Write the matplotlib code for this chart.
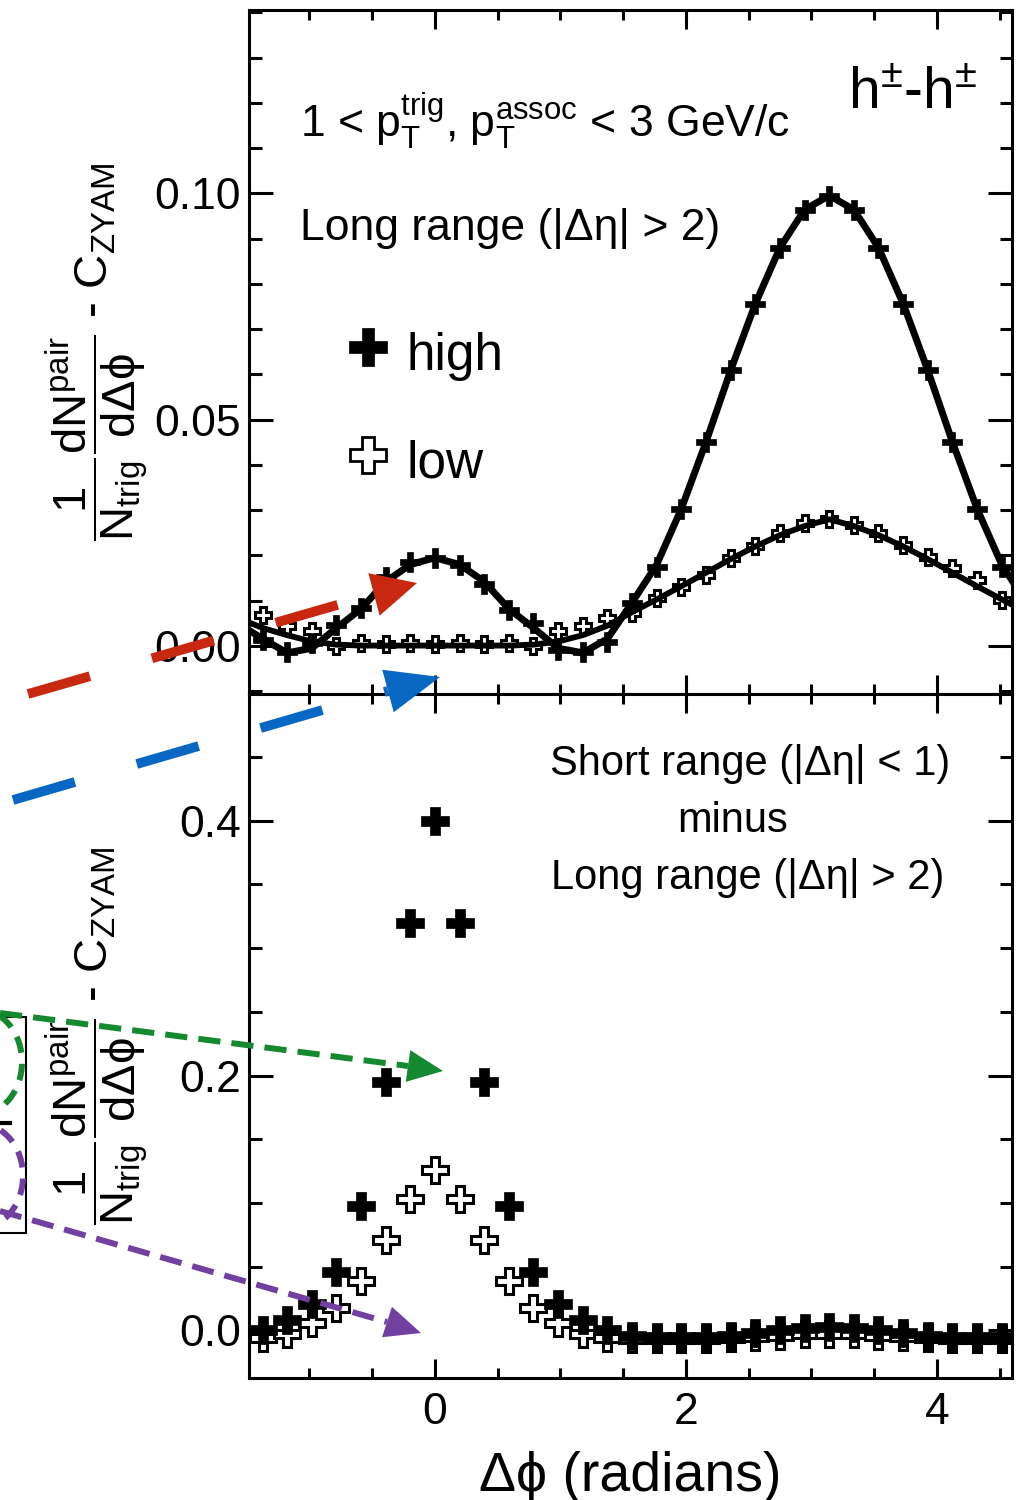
import math
import matplotlib
matplotlib.use("Agg")
import matplotlib.pyplot as plt
from matplotlib.lines import Line2D
from matplotlib.patches import Polygon, Ellipse, Rectangle
from matplotlib.ticker import MultipleLocator

plt.rcParams['font.family'] = ['Liberation Sans', 'DejaVu Sans']
plt.rcParams['mathtext.fontset'] = 'custom'
plt.rcParams['mathtext.rm'] = 'Liberation Sans'
plt.rcParams['mathtext.it'] = 'Liberation Sans'
plt.rcParams['mathtext.bf'] = 'Liberation Sans:bold'
plt.rcParams['mathtext.sf'] = 'Liberation Sans'
plt.rcParams['mathtext.fallback'] = 'stixsans'
plt.rcParams['lines.scale_dashes'] = False

# ---------------- data ----------------
dphi = [-1.374, -1.178, -0.982, -0.785, -0.589, -0.393, -0.196, 0.000,
        0.196, 0.393, 0.589, 0.785, 0.982, 1.178, 1.374, 1.571,
        1.767, 1.963, 2.160, 2.356, 2.553, 2.749, 2.945, 3.142,
        3.338, 3.534, 3.731, 3.927, 4.123, 4.320, 4.516]

# long range (|deta|>2) per-trigger yields
top_high = [0.0013, -0.0013, 0.0007, 0.0046, 0.0083, 0.0153, 0.0186, 0.0194,
            0.0179, 0.0138, 0.0080, 0.0050, -0.0009, -0.0013, 0.0009, 0.0096,
            0.0175, 0.0303, 0.0451, 0.0609, 0.0756, 0.0880, 0.0964, 0.0995,
            0.0964, 0.0880, 0.0756, 0.0609, 0.0451, 0.0303, 0.0175]
top_low = [0.0068, 0.0045, 0.0033, 0.0000, 0.0007, 0.0005, 0.0007, 0.0005,
           0.0007, 0.0005, 0.0007, 0.0000, 0.0033, 0.0045, 0.0062, 0.0074,
           0.0106, 0.0130, 0.0157, 0.0195, 0.0222, 0.0249, 0.0271, 0.0280,
           0.0268, 0.0249, 0.0223, 0.0197, 0.0172, 0.0146, 0.0102]

# fit curves (read at bin centres, one extra bin on each side)
fit_dphi = [-1.571, -1.374, -1.178, -0.982, -0.785, -0.589, -0.393, -0.196, 0.000,
            0.196, 0.393, 0.589, 0.785, 0.982, 1.178, 1.374, 1.571,
            1.767, 1.963, 2.160, 2.356, 2.553, 2.749, 2.945, 3.142,
            3.338, 3.534, 3.731, 3.927, 4.123, 4.320, 4.516, 4.712]
fit_high = [0.0050, 0.0016, -0.0015, -0.0005, 0.0040, 0.0082, 0.0142, 0.0180, 0.0195,
            0.0180, 0.0142, 0.0082, 0.0040, -0.0005, -0.0015, 0.0016, 0.0096,
            0.0180, 0.0303, 0.0451, 0.0609, 0.0756, 0.0880, 0.0964, 0.0995,
            0.0964, 0.0880, 0.0756, 0.0609, 0.0451, 0.0303, 0.0180, 0.0096]
fit_low = [0.0062, 0.0040, 0.0024, 0.0010, 0.0003, 0.0001, 0.0001, 0.0001, 0.0001,
           0.0001, 0.0001, 0.0001, 0.0003, 0.0010, 0.0024, 0.0045, 0.0075,
           0.0103, 0.0132, 0.0162, 0.0192, 0.0220, 0.0245, 0.0265, 0.0280,
           0.0265, 0.0245, 0.0220, 0.0192, 0.0162, 0.0132, 0.0103, 0.0075]

# short range minus long range
bot_high = [0.000, 0.008, 0.021, 0.046, 0.098, 0.195, 0.320, 0.400,
            0.320, 0.195, 0.098, 0.046, 0.021, 0.008, 0.000, -0.004,
            -0.005, -0.005, -0.005, -0.004, -0.002, 0.000, 0.002, 0.003,
            0.002, 0.000, -0.002, -0.004, -0.005, -0.005, -0.005]
bot_low = [-0.006, -0.003, 0.006, 0.018, 0.039, 0.071, 0.103, 0.126,
           0.103, 0.071, 0.039, 0.018, 0.006, -0.003, -0.006, -0.007,
           -0.007, -0.007, -0.007, -0.006, -0.005, -0.004, -0.003, -0.003,
           -0.003, -0.004, -0.005, -0.006, -0.007, -0.007, -0.007]

top_yticks = [0.00, 0.05, 0.10]
top_yticklabels = ['0.00', '0.05', '0.10']
bot_yticks = [0.0, 0.2, 0.4]
bot_yticklabels = ['0.0', '0.2', '0.4']
x_ticks = [0, 2, 4]
x_ticklabels = ['0', '2', '4']

# ---------------- layout ----------------
W_PX, H_PX = 1026, 1500
fig = plt.figure(figsize=(W_PX / 100, H_PX / 100), dpi=100)


def px(x, y):
    return (x / W_PX, 1 - y / H_PX)


AX_L, AX_R = 249, 1012
ax1 = fig.add_axes([AX_L / W_PX, 1 - 694 / H_PX, (AX_R - AX_L) / W_PX, 684 / H_PX])
ax2 = fig.add_axes([AX_L / W_PX, 1 - 1378 / H_PX, (AX_R - AX_L) / W_PX, 684 / H_PX])

for ax in (ax1, ax2):
    ax.set_xlim(-1.482, 4.598)
    for s in ax.spines.values():
        s.set_linewidth(2.2)
    ax.set_xticks(x_ticks)
    ax.xaxis.set_minor_locator(MultipleLocator(0.5))
    ax.tick_params(axis='both', which='both', direction='in', top=True, right=True,
                   width=2.2)
    ax.tick_params(axis='x', which='major', length=14)
    ax.tick_params(axis='x', which='minor', length=7.5)
    ax.tick_params(axis='y', which='major', length=17, pad=6, labelsize=32)
    ax.tick_params(axis='y', which='minor', length=9)

ax1.set_ylim(-0.0106, 0.1405)
ax1.set_yticks(top_yticks)
ax1.set_yticklabels(top_yticklabels)
ax1.yaxis.set_minor_locator(MultipleLocator(0.01))
ax1.tick_params(axis='x', labelbottom=False)

ax2.set_ylim(-0.0373, 0.4994)
ax2.set_yticks(bot_yticks)
ax2.set_yticklabels(bot_yticklabels)
ax2.yaxis.set_minor_locator(MultipleLocator(0.05))
ax2.set_xticklabels(x_ticklabels)
ax2.tick_params(axis='x', labelsize=32, pad=10)

# ---------------- top panel ----------------
ax1.plot(dphi, top_low, ls='none', marker='P', ms=11, mfc='white', mec='black',
         mew=2.2, zorder=3)
ax1.plot(fit_dphi, fit_low, color='black', lw=4.2, zorder=4, solid_joinstyle='round')
ax1.plot(dphi, top_high, ls='none', marker='P', ms=14, mfc='black', mec='black',
         mew=0.5, zorder=5)
ax1.plot(fit_dphi, fit_high, color='black', lw=5, zorder=6, solid_joinstyle='round')

# ---------------- bottom panel ----------------
ax2.plot(dphi, bot_low, ls='none', marker='P', ms=19, mfc='white', mec='black',
         mew=2.2, zorder=3)
ax2.plot(dphi, bot_high, ls='none', marker='P', ms=19.5, mfc='black', mec='black',
         mew=0.5, zorder=4)

# ---------------- texts ----------------
fig.text(*px(300, 137), r'1 < p$_{\mathrm{T}}^{\mathrm{trig}}$, p$_{\mathrm{T}}^{\mathrm{assoc}}$ < 3 GeV/c',
         fontsize=32, ha='left', va='baseline')
fig.text(*px(300, 240), 'Long range (|Δη| > 2)', fontsize=32, ha='left', va='baseline')
fig.text(*px(848, 109), r'h$^{\pm}$-h$^{\pm}$', fontsize=41, ha='left', va='baseline')

# legend
fig.add_artist(Line2D([px(368, 347)[0]], [px(368, 347)[1]], transform=fig.transFigure,
                      ls='none', marker='P', ms=28, mfc='black', mec='black', mew=0.5))
fig.text(*px(406, 370), 'high', fontsize=37, ha='left', va='baseline')
fig.add_artist(Line2D([px(368, 455)[0]], [px(368, 455)[1]], transform=fig.transFigure,
                      ls='none', marker='P', ms=26, mfc='white', mec='black', mew=2))
fig.text(*px(406, 478), 'low', fontsize=37, ha='left', va='baseline')

fig.text(*px(750, 775), 'Short range (|Δη| < 1)', fontsize=30, ha='center', va='baseline')
fig.text(*px(733, 832), 'minus', fontsize=30, ha='center', va='baseline')
fig.text(*px(748, 889), 'Long range (|Δη| > 2)', fontsize=30, ha='center', va='baseline')

ylab = r'$\dfrac{1}{\mathrm{N_{trig}}}\dfrac{\mathrm{dN^{pair}}}{\mathrm{d\Delta\phi}}$ - C$_{\mathrm{ZYAM}}$'
fig.text(*px(97, 352), ylab, fontsize=34, rotation=90, ha='center', va='center')
fig.text(*px(97, 1036), ylab, fontsize=34, rotation=90, ha='center', va='center')

fig.text(*px(630, 1491), 'Δϕ (radians)', fontsize=40, ha='center', va='baseline')


# ---------------- annotation arrows (overlay) ----------------
def dashed_arrow(start, base, tip, half_w, color, lw, dashes):
    (x0, y0), (x1, y1) = px(*start), px(*base)
    fig.add_artist(Line2D([x0, x1], [y0, y1], transform=fig.transFigure, color=color,
                          lw=lw, dashes=dashes, dash_capstyle='butt', clip_on=False,
                          zorder=20))
    dx, dy = tip[0] - base[0], tip[1] - base[1]
    L = math.hypot(dx, dy)
    nx, ny = -dy / L, dx / L
    pts = [tip, (base[0] + nx * half_w, base[1] + ny * half_w),
           (base[0] - nx * half_w, base[1] - ny * half_w)]
    fig.add_artist(Polygon([px(*p) for p in pts], closed=True, transform=fig.transFigure,
                           facecolor=color, edgecolor=color, lw=0, clip_on=False,
                           zorder=21))


RED, BLUE, GREEN, PURPLE = '#C8280F', '#0867C3', '#15892F', '#7140A0'
dashed_arrow((28, 694), (374, 594.4), (417, 583), 22, RED, 7, (46.4, 46.4))
dashed_arrow((13, 800), (388, 691), (440, 677), 22, BLUE, 7, (46.4, 46.4))
dashed_arrow((0, 1013), (408, 1066), (443, 1071), 16, GREEN, 4.3, (16, 8))
dashed_arrow((0, 1211), (387, 1322), (421, 1333), 16, PURPLE, 4.3, (16, 8))

# partial box and dashed ellipses at the left border
fig.add_artist(Rectangle(px(-100, 1233), 125.7 / W_PX, 216 / H_PX, transform=fig.transFigure,
                         fill=False, edgecolor='black', lw=1.5, clip_on=False, zorder=19))
fig.add_artist(Line2D([px(-5, 0)[0], px(10, 0)[0]], [px(0, 1123)[1]] * 2,
                      transform=fig.transFigure, color='black', lw=3, clip_on=False))
fig.add_artist(Ellipse(px(-20, 1062), 84 / W_PX, 104 / H_PX, transform=fig.transFigure,
                       fill=False, edgecolor=GREEN, lw=4.3, ls=(0, (12, 8)), clip_on=False,
                       zorder=22))
fig.add_artist(Ellipse(px(-20, 1176), 86 / W_PX, 104 / H_PX, transform=fig.transFigure,
                       fill=False, edgecolor=PURPLE, lw=4.3, ls=(0, (12, 8)), clip_on=False,
                       zorder=22))

fig.savefig('out.png', dpi=100)
